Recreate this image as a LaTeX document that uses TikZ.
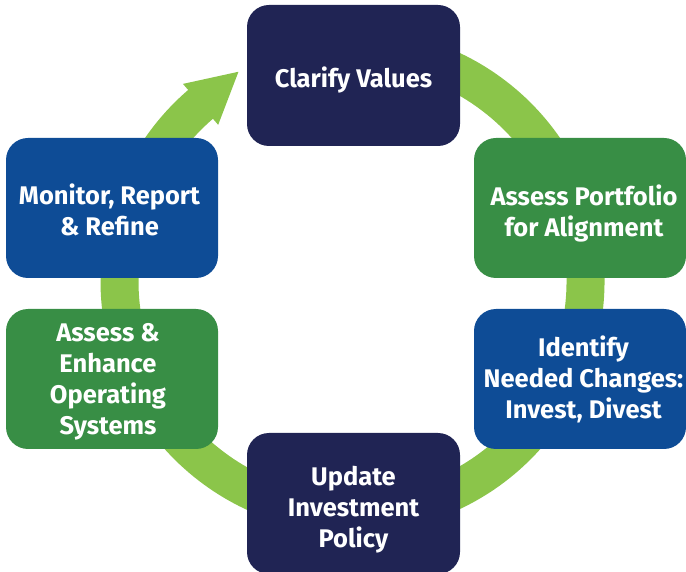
\documentclass[tikz,border=0pt]{standalone}
\usepackage{fontspec}
\setmainfont{Fira Sans}
\usetikzlibrary{calc}
\definecolor{navy}{RGB}{32,36,84}
\definecolor{boxgreen}{RGB}{56,142,69}
\definecolor{boxblue}{RGB}{14,76,150}
\definecolor{ring}{RGB}{139,197,74}
\begin{document}
\begin{tikzpicture}[x=1pt,y=1pt,
  stage/.style={minimum width=212pt, minimum height=140pt, rounded corners=22pt, inner sep=0pt},
  stagetext/.style={inner sep=0pt, align=center, text=white,
    font=\fontsize{25.5}{31}\selectfont\bfseries}]
\useasboundingbox (0,0) rectangle (686,571);
\clip (0,0) rectangle (686,571);
\coordinate (c) at (352.5,290);
% ring with arrow
\draw[ring, line width=38pt] ($(c)+(100:233)$) arc[start angle=100, end angle=-230, radius=233];
\fill[ring] ($(c)+(130.7:260)$) -- ($(c)+(130.7:233)+(40.7:50)$) -- ($(c)+(130.7:206)$) -- cycle;
% stages
\node[stage, fill=navy, minimum width=213pt, minimum height=141pt] (clarify) at (353.5,495.5) {};
\node[stage, fill=boxgreen] (assess) at (580,363) {};
\node[stage, fill=boxblue] (identify) at (580,192) {};
\node[stage, fill=navy, minimum width=213pt, minimum height=141pt] (update) at (353.5,67.5) {};
\node[stage, fill=boxgreen] (enhance) at (112,192) {};
\node[stage, fill=boxblue] (monitor) at (112,363) {};
% texts
\node[stagetext] (clarifyt) at ($(clarify)+(0,-4)$) {Clarify Values};
\node[stagetext] (assesst) at ($(assess)+(4,-5)$) {Assess Portfolio\\for Alignment};
\node[stagetext] (identifyt) at ($(identify)+(3.5,0)$) {Identify\\Needed Changes:\\Invest, Divest};
\node[stagetext] (updatet) at ($(update)+(0,-6)$) {Update\\Investment\\Policy};
\node[stagetext] (enhancet) at ($(enhance)+(-4,-3)$) {Assess \&\\Enhance\\Operating\\Systems};
\node[stagetext] (monitort) at ($(monitor)+(-2.5,-2)$) {Monitor, Report\\\& Refine};
\end{tikzpicture}
\end{document}
